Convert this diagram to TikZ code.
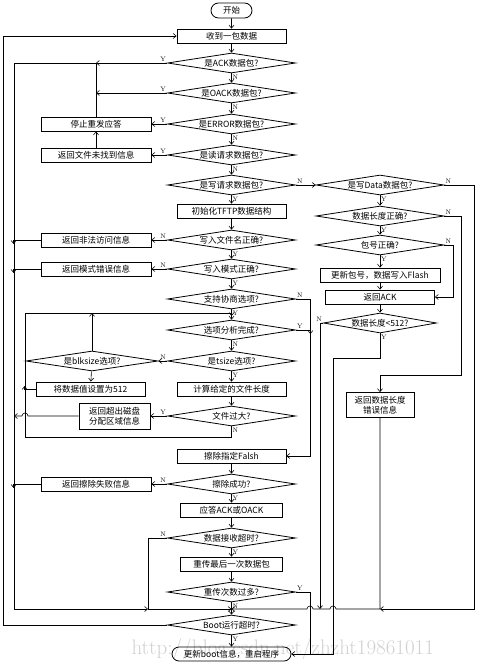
\documentclass[tikz,border=0pt]{standalone}
\usepackage{fontspec}
\newfontfamily\cjk{Noto Sans CJK SC}
\usetikzlibrary{arrows.meta,shapes.geometric,shapes.misc}

\begin{document}
\begin{tikzpicture}[x=1pt,y=-1pt, every node/.style={font=\cjk\fontsize{8.5}{10}\selectfont}, box/.style={draw,line width=0.8pt,minimum width=109pt,minimum height=14pt,inner sep=1pt,align=center}, term/.style={draw,line width=0.8pt,rounded rectangle,minimum height=14pt,inner sep=1pt}, dec/.style={draw,line width=0.8pt,diamond,aspect=6.4,minimum width=128pt,minimum height=20pt,inner sep=0pt}, arr/.style={-{Straight Barb[length=3pt,width=5pt]},line width=0.6pt}, lin/.style={line width=0.6pt}, yn/.style={font=\fontsize{6.5}{7}\selectfont,inner sep=1pt}]
\useasboundingbox (0,0) rectangle (480,668);
\node[font=\fontsize{21}{21}\selectfont,text=black!18,anchor=base west] (wm) at (128,654) {http://blog.csdn.net/zhzht19861011};
\node[term,minimum width=43pt,minimum height=15pt] (start) at (231.5,10.5) {开始};
\node[box] (recv) at (231.5,36) {收到一包数据};
\node[dec] (isack) at (231.5,63) {是ACK数据包?};
\node[dec] (isoack) at (231.5,93) {是OACK数据包?};
\node[dec] (iserr) at (231.5,124) {是ERROR数据包?};
\node[dec] (isread) at (231.5,155) {是读请求数据包?};
\node[dec] (iswrite) at (231.5,185) {是写请求数据包?};
\node[box] (init) at (231.5,211) {初始化TFTP数据结构};
\node[dec] (fname) at (231.5,240) {写入文件名正确?};
\node[dec] (fmode) at (231.5,269) {写入模式正确?};
\node[dec] (nego) at (231.5,299) {支持协商选项?};
\node[dec] (optdone) at (231.5,330) {选项分析完成?};
\node[dec] (tsize) at (231.5,361) {是tsize选项?};
\node[box] (calc) at (231.5,389) {计算给定的文件长度};
\node[dec] (toobig) at (231.5,416) {文件过大?};
\node[box] (erase) at (231.5,456) {擦除指定Falsh};
\node[dec] (erasok) at (231.5,484) {擦除成功?};
\node[box,minimum width=102pt] (reply) at (231.5,510) {应答ACK或OACK};
\node[dec] (timeout) at (231.5,538) {数据接收超时?};
\node[box,minimum width=102pt] (resend) at (231.5,564) {重传最后一次数据包};
\node[dec] (retry) at (231.5,592) {重传次数过多?};
\node[dec] (bootto) at (231.5,625) {Boot运行超时?};
\node[term,minimum width=121pt] (finish) at (231.5,654) {更新boot信息，重启程序};
\node[box,minimum width=110pt] (stopre) at (96,124) {停止重发应答};
\node[box,minimum width=110pt] (nofile) at (96,155) {返回文件未找到信息};
\node[box,minimum width=110pt] (badacc) at (96,240) {返回非法访问信息};
\node[box,minimum width=110pt] (badmode) at (96,269) {返回模式错误信息};
\node[dec,minimum width=132pt] (blk) at (92,361) {是blksize选项?};
\node[box] (set512) at (90.5,389) {将数据值设置为512};
\node[box,minimum width=71pt,minimum height=26pt] (diskerr) at (114.5,416) {返回超出磁盘\\分配区域信息};
\node[box,minimum width=110pt] (erasefail) at (96,484) {返回擦除失败信息};
\node[dec] (isdata) at (380,185) {是写Data数据包?};
\node[dec] (lenok) at (380,216) {数据长度正确?};
\node[dec] (pkok) at (380,245) {包号正确?};
\node[box,minimum width=120pt] (update) at (380,275) {更新包号，数据写入Flash};
\node[box] (retack) at (380,297) {返回ACK};
\node[dec,minimum width=113pt] (len512) at (380,323) {数据长度<512?};
\node[box,minimum width=68pt,minimum height=25pt] (lenerr) at (380,405) {返回数据长度\\错误信息};
\coordinate (jl) at (148,609);
\coordinate (jm) at (231.5,609);
\coordinate (jr) at (lenerr.south |- jm);
\node[yn,above left] (y1) at (isack.west) {Y};
\node[yn,below right] (n1) at (isack.south) {N};
\node[yn,above left] (y2) at (isoack.west) {Y};
\node[yn,below right] (n2) at (isoack.south) {N};
\node[yn,above left] (y3) at (iserr.west) {Y};
\node[yn,below right] (n3) at (iserr.south) {N};
\node[yn,above left] (y4) at (isread.west) {Y};
\node[yn,below right] (n4) at (isread.south) {N};
\node[yn,above right] (n5) at (iswrite.east) {N};
\node[yn,below right] (y5) at (iswrite.south) {Y};
\node[yn,above left] (n6) at (fname.west) {N};
\node[yn,below right] (y6) at (fname.south) {Y};
\node[yn,above left] (n7) at (fmode.west) {N};
\node[yn,below right] (y7) at (fmode.south) {Y};
\node[yn,above right] (n8) at (nego.east) {N};
\node[yn,below right] (y8) at (nego.south) {Y};
\node[yn,above right] (y9) at (optdone.east) {Y};
\node[yn,below right] (n9) at (optdone.south) {N};
\node[yn,above left] (n10) at (tsize.west) {N};
\node[yn,below right] (y10) at (tsize.south) {Y};
\node[yn,above left] (y11) at (toobig.west) {Y};
\node[yn,below right] (n11) at (toobig.south) {N};
\node[yn,above left] (n12) at (erasok.west) {N};
\node[yn,below right] (y12) at (erasok.south) {Y};
\node[yn,above left] (n13) at (timeout.west) {N};
\node[yn,below right] (y13) at (timeout.south) {Y};
\node[yn,above right] (y14) at (retry.east) {Y};
\node[yn,below right] (n14) at (retry.south) {N};
\node[yn,below right] (y15) at (bootto.south) {Y};
\node[yn,above right] (n16) at (isdata.east) {N};
\node[yn,below right] (y16) at (isdata.south) {Y};
\node[yn,above right] (n17) at (lenok.east) {N};
\node[yn,below right] (y17) at (lenok.south) {Y};
\node[yn,above right] (n18) at (pkok.east) {N};
\node[yn,below right] (y18) at (pkok.south) {Y};
\node[yn,above left] (n19) at (len512.west) {N};
\node[yn,below right] (y19) at (len512.south) {Y};
\draw[arr] (start) -- (recv);
\draw[arr] (recv) -- (isack);
\draw[arr] (isack) -- (isoack);
\draw[arr] (isoack) -- (iserr);
\draw[arr] (iserr) -- (isread);
\draw[arr] (isread) -- (iswrite);
\draw[arr] (iswrite) -- (init);
\draw[arr] (init) -- (fname);
\draw[arr] (fname) -- (fmode);
\draw[arr] (fmode) -- (nego);
\draw[arr] (nego) -- (optdone);
\draw[arr] (optdone) -- (tsize);
\draw[arr] (tsize) -- (calc);
\draw[arr] (calc) -- (toobig);
\draw[arr] (erase) -- (erasok);
\draw[arr] (erasok) -- (reply);
\draw[arr] (reply) -- (timeout);
\draw[arr] (timeout) -- (resend);
\draw[arr] (resend) -- (retry);
\draw[arr] (retry) -- (bootto);
\draw[arr] (bootto) -- (finish);
\draw[arr] (isack.west) -- (isack.west -| stopre.north);
\draw[arr] (isoack.west) -- (isoack.west -| stopre.north);
\draw[arr] (stopre.north) |- (14,63) |- (jl);
\draw[arr] (iserr) -- (stopre);
\draw[arr] (isread) -- (nofile);
\draw[arr] (nofile) -- (stopre);
\draw[arr] (fname) -- (badacc);
\draw[arr] (fmode) -- (badmode);
\draw[arr] (badacc.west) -| ++(-27,4);
\draw[arr] (badmode.west) -| ++(-27,4);
\draw[arr] (erasok) -- (erasefail);
\draw[arr] (erasefail.west) -| ++(-27,4);
\draw[arr] (timeout.west) -| (jl) -- (jm);
\draw[arr] (bootto.west) -| (3,36) -- (recv.west);
\draw[arr] (toobig.south) -- ++(0,11) -| (25,313) -| (231.5,316);
\draw[arr] (tsize) -- (blk);
\draw[arr] (blk.north) -- (92,313);
\draw[arr] (blk) -- (set512);
\draw[arr] (set512.west) -| ++(-11,-3);
\draw[arr] (toobig) -- (diskerr);
\draw[arr] (diskerr.west) -- (28,416) arc[start angle=0,end angle=180,radius=3pt] -- (14,416);
\draw[arr] (nego.east) -- (310,299) |- (erase.east);
\draw[arr] (optdone.east) -| ++(14.5,4);
\draw[arr] (iswrite) -- (isdata);
\draw[arr] (isdata) -- (lenok);
\draw[arr] (lenok) -- (pkok);
\draw[arr] (pkok) -- (update);
\draw[arr] (update) -- (retack);
\draw[arr] (retack) -- (len512);
\draw[arr] (lenok.east) -| (461,375) -| (lenerr.north);
\draw[arr] (pkok.east) -- (453,245) |- (retack.east);
\draw[arr] (isdata.east) -| (474,609) -- (jr);
\draw[arr] (lenerr.south) -- (jr) -- (336,609) arc[start angle=0,end angle=180,radius=3pt] -- (313,609) arc[start angle=0,end angle=180,radius=3pt] -- (jm);
\draw[arr] (len512.west) -| (320,609);
\draw[lin] (len512.south) -- ++(0,25) -| (333,654) -- (310,654);
\draw[arr] (retry.east) -- (310,592) |- (finish.east);
\end{tikzpicture}
\end{document}
